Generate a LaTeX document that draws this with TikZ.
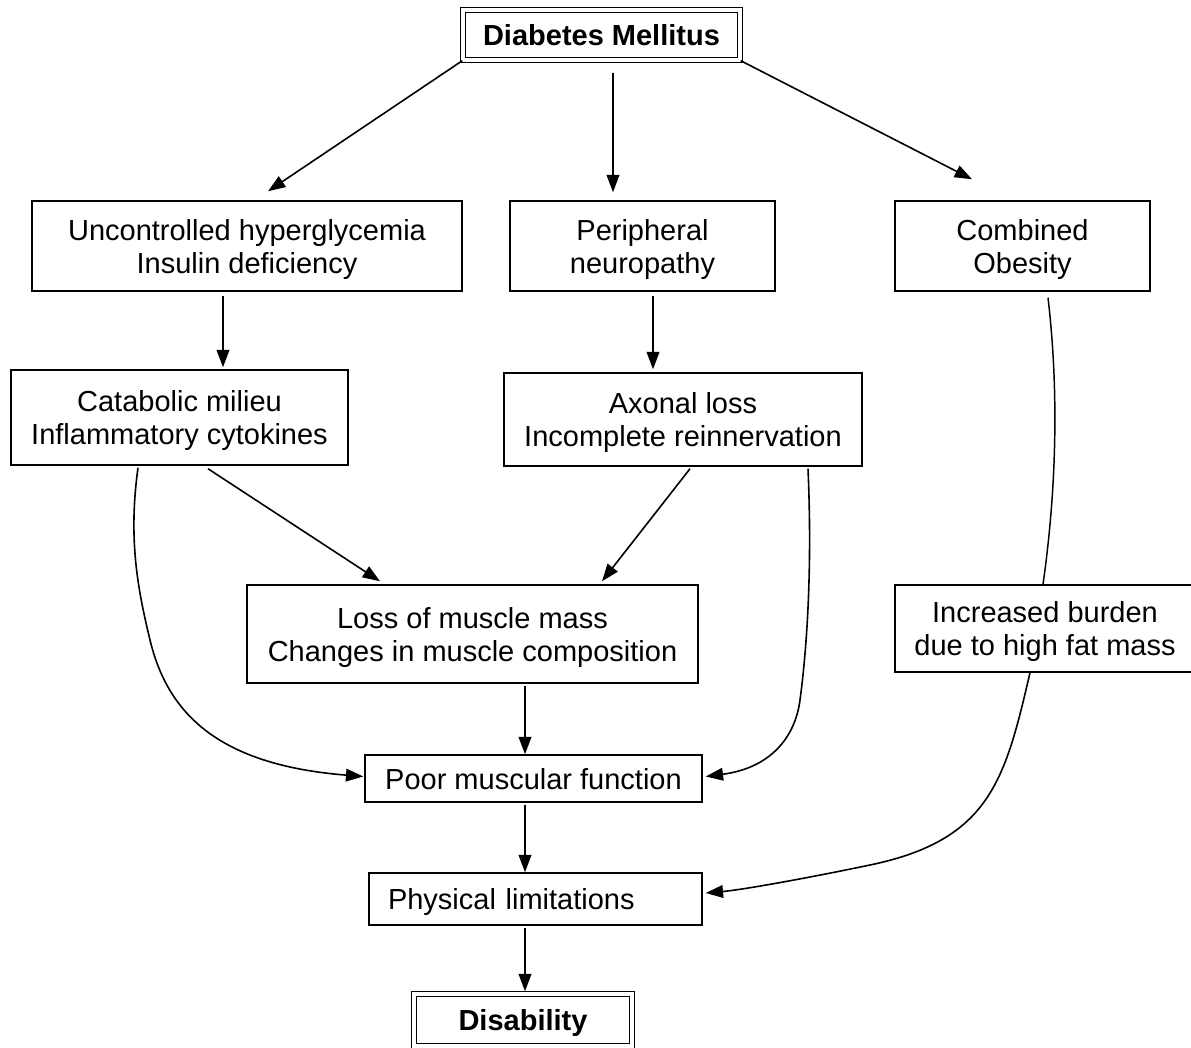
\documentclass[tikz,border=0pt]{standalone}
\usepackage{fontspec}
\setmainfont{Liberation Sans}
\usetikzlibrary{arrows.meta}
\newcommand{\lowt}[2][c]{\raisebox{-3pt}[\height][\depth]{\begin{tabular}{@{}#1@{}}#2\end{tabular}}}
\begin{document}
\begin{tikzpicture}[x=0.75pt,y=-0.75pt,
  box/.style={draw,line width=1.1pt,align=center,inner sep=0pt,
    font=\fontsize{21.75pt}{24.75pt}\selectfont},
  dbox/.style={draw,double,double distance=2.4pt,line width=1.1pt,align=center,inner sep=0pt,
    font=\fontsize{21.75pt}{24.75pt}\selectfont\bfseries},
  arr/.style={-{Triangle[length=13pt,width=9.5pt]},line width=1.2pt},
  link/.style={line width=1.1pt}]
\useasboundingbox (0,0) rectangle (1191,1048);

\node[dbox,minimum width=207.75pt,minimum height=37.5pt] (dm) at (601.5,35) {\lowt{Diabetes Mellitus}};
\node[box,minimum width=322.5pt,minimum height=67.5pt] (u) at (247,246) {\lowt{Uncontrolled hyperglycemia\\Insulin deficiency}};
\node[box,minimum width=198.75pt,minimum height=67.5pt] (p) at (642.5,246) {\lowt{Peripheral\\neuropathy}};
\node[box,minimum width=191.25pt,minimum height=67.5pt] (co) at (1022.5,246) {\lowt{Combined\\Obesity}};
\node[box,minimum width=252.75pt,minimum height=71.25pt] (c) at (179.5,417.5) {\lowt{Catabolic milieu\\Inflammatory cytokines}};
\node[box,minimum width=268.5pt,minimum height=69.75pt] (a) at (683,419.5) {\lowt{Axonal loss\\Incomplete reinnervation}};
\node[box,minimum width=338.25pt,minimum height=73.5pt] (l) at (472.5,634) {\lowt{Loss of muscle mass\\Changes in muscle composition}};
\node[box,minimum width=225pt,minimum height=65.25pt] (ib) at (1045,628.5) {\lowt{Increased burden\\due to high fat mass}};
\node[box,minimum width=252.75pt,minimum height=35.25pt] (pm) at (533.5,778.5) {\lowt{Poor muscular function}};
\node[box,minimum width=249.75pt,minimum height=39pt,inner xsep=14.25pt,text width=221.25pt,align=left] (ph) at (535.5,899) {\lowt[l]{Physical limitations}};
\node[dbox,minimum width=163.5pt,minimum height=39pt] (dis) at (523,1020) {\lowt{Disability}};

\draw[arr] (dm.south west) -- ([shift={(21,-9)}]u.north);
\draw[arr] ([shift={(11.5,12)}]dm.south) -- ([shift={(-29.5,-8)}]p.north);
\draw[arr] (dm.south east) -- ([shift={(-50.5,-21)}]co.north);
\draw[arr] ([shift={(-24,4)}]u.south) -- ([shift={(43.5,-2)}]c.north);
\draw[arr] ([shift={(10.5,4)}]p.south) -- ([shift={(-30,-3)}]a.north);
\draw[arr] ([shift={(28.5,3)}]c.south) -- ([shift={(-92.5,-3)}]l.north);
\draw[arr] ([shift={(7,2)}]a.south) -- ([shift={(129.5,-3)}]l.north);
\draw[arr] ([shift={(52.5,2)}]l.south) -- ([shift={(-8.5,0)}]pm.north);
\draw[arr] ([shift={(-8.5,2)}]pm.south) -- ([shift={(-10.5,0)}]ph.north);
\draw[arr] ([shift={(-10.5,2)}]ph.south) -- ([shift={(2,-2)}]dis.north);

\draw[arr] ([shift={(-41.5,2)}]c.south) .. controls (128,540) and (138,590) .. (150,640)
  .. controls (168,715) and (220,765) .. ([shift={(-1,-2)}]pm.west);
\draw[arr] ([shift={(125,2)}]a.south) .. controls (812,560) and (808,640) .. (800,700)
  .. controls (795,738) and (770,768) .. ([shift={(3,-2)}]pm.east);
\draw[link] ([shift={(25.5,6)}]co.south) .. controls (1060,400) and (1055,500) .. ([shift={(-2,0)}]ib.north);
\draw[arr] ([shift={(-15,0)}]ib.south) .. controls (1005,780) and (990,840) .. (870,865)
  .. controls (798,880) and (740,890) .. ([shift={(3,-6)}]ph.east);
\end{tikzpicture}
\end{document}
